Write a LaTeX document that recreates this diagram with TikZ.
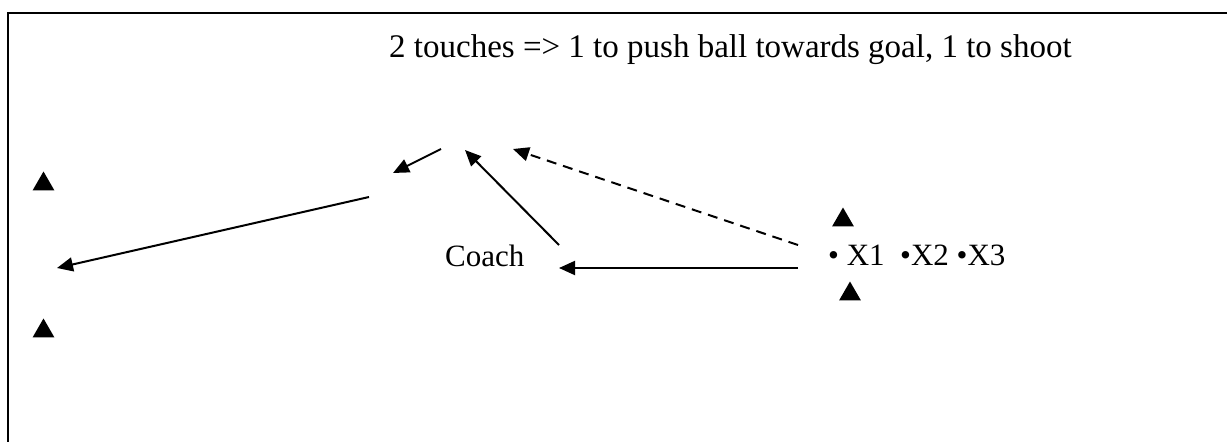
\documentclass[tikz,border=0pt]{standalone}
\usepackage{fontspec}
\setmainfont{Liberation Serif}
\usetikzlibrary{arrows.meta,shapes.geometric}
\tikzset{
  cone/.style={regular polygon,regular polygon sides=3,fill=black,inner sep=0pt,minimum size=25pt},
  pass/.style={line width=2pt,-{Triangle[length=16pt,width=14pt]}},
  run/.style={pass,dash pattern=on 10pt off 7pt},
  lbl/.style={font=\fontsize{31}{37}\selectfont,inner sep=0pt,anchor=base west},
}
\begin{document}
\begin{tikzpicture}[x=1pt,y=-1pt]
\useasboundingbox (0,0) rectangle (1227,442);
% frame
\coordinate (fb) at (8,442);
\coordinate (ft) at (8,13);
\coordinate (fr) at (1227,13);
\draw[line width=2pt] (fb) -- (ft) -- (fr);
% text
\node[lbl,font=\fontsize{33}{40}\selectfont] (info) at (389,57) {2 touches => 1 to push ball towards goal, 1 to shoot};
\node[lbl] (coach) at (445,266) {Coach};
\node[lbl] (players) at (828,265) {• X1\ \ •X2 •X3};
% cones
\node[cone] (c1) at (43.5,184) {};
\node[cone] (c2) at (43.5,331) {};
\node[cone] (c3) at (843,220) {};
\node[cone] (c4) at (850,294) {};
% arrow ends
\coordinate (a1s) at (369,197);
\coordinate (a1e) at (57,268);
\coordinate (a2s) at (441,149);
\coordinate (a2e) at (393,173);
\coordinate (a3s) at (559,245);
\coordinate (a3e) at (465,150);
\coordinate (dS) at (798,245);
\coordinate (dE) at (513,149);
\coordinate (a5s) at (798,268);
\coordinate (a5e) at (559,268);
\draw[pass] (a1s) -- (a1e);
\draw[pass] (a2s) -- (a2e);
\draw[pass] (a3s) -- (a3e);
\draw[run] (dS) -- (dE);
\draw[pass] (a5s) -- (a5e);
\end{tikzpicture}
\end{document}
